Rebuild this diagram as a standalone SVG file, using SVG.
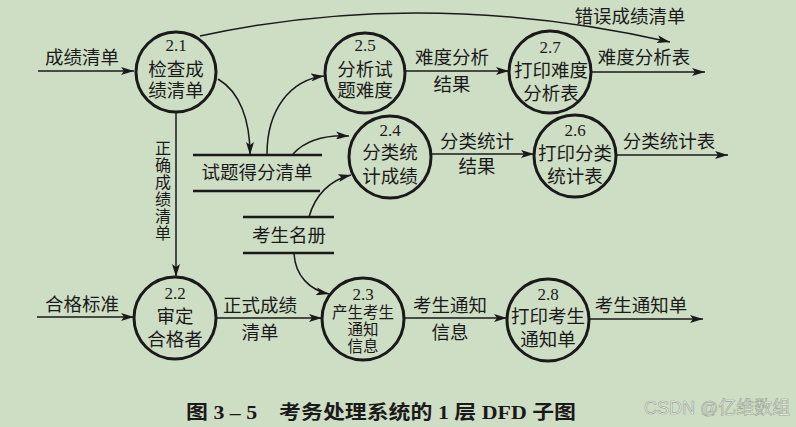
<svg xmlns="http://www.w3.org/2000/svg" width="796" height="427" viewBox="0 0 796 427">
<defs>
<marker id="ah" markerUnits="userSpaceOnUse" markerWidth="14" markerHeight="8" refX="13" refY="4" orient="auto">
<path d="M0,0 L13,4 L0,8 L3,4 Z" fill="#1a1a1a"/>
</marker>
<style>
.bg{fill:#cedec4}
.c{fill:none;stroke:#1a1a1a;stroke-width:3}
.st{stroke:#1a1a1a;stroke-width:2.5}
.f{fill:none;stroke:#1a1a1a;stroke-width:1.5;marker-end:url(#ah)}
text{font-family:"Liberation Serif","Noto Sans CJK SC",serif;fill:#1a1a1a;text-anchor:middle;dominant-baseline:central}
.n{font-size:17px}
.t{font-size:18.5px}
.s{font-size:15.5px}
.l{font-size:18.5px}
.v{font-size:16px}
.cap{font-size:19px;font-weight:600}
.wm{font-family:"Liberation Sans","Noto Sans CJK SC",sans-serif;font-size:18px;fill:#f3f6f0;stroke:#9ba797;stroke-width:0.7;text-anchor:start}
</style>
</defs>
<rect class="bg" x="0" y="0" width="796" height="427"/>

<g id="connectors">
<path class="f" d="M38,71 L134,71"/>
<path class="f" d="M200,36 Q425,-13 670,42"/>
<path class="f" d="M176,113 L176,277"/>
<path class="f" d="M218,79 C240,92 250,120 250,155"/>
<path class="f" d="M267,154 C267,110 290,80 324,76"/>
<path class="f" d="M293,154 C306,140 326,135 349,136"/>
<path class="f" d="M309,217 C315,195 330,180 351,175"/>
<path class="f" d="M294,253 C295,276 310,290 329,294"/>
<path class="f" d="M405,71 L509,71"/>
<path class="f" d="M592,72 L705,72"/>
<path class="f" d="M432,154 L534,154"/>
<path class="f" d="M615,155 L728,155"/>
<path class="f" d="M37,317 L134,317"/>
<path class="f" d="M216,318 L322,318"/>
<path class="f" d="M404,318 L507,318"/>
<path class="f" d="M589,319 L703,319"/>
</g>

<g id="labels">
<text class="l" x="82" y="58">成绩清单</text>
<text class="l" x="630" y="17">错误成绩清单</text>
<g class="v">
<text x="163" y="148">正</text>
<text x="163" y="165">确</text>
<text x="163" y="182">成</text>
<text x="163" y="199">绩</text>
<text x="163" y="216">清</text>
<text x="163" y="233">单</text>
</g>
<text class="l" x="452" y="58">难度分析</text>
<text class="l" x="452" y="85">结果</text>
<text class="l" x="644" y="58">难度分析表</text>
<text class="l" x="477" y="142">分类统计</text>
<text class="l" x="477" y="167">结果</text>
<text class="l" x="669" y="142">分类统计表</text>
<text class="l" x="82" y="305">合格标准</text>
<text class="l" x="260" y="306">正式成绩</text>
<text class="l" x="260" y="333">清单</text>
<text class="l" x="450" y="306">考生通知</text>
<text class="l" x="450" y="333">信息</text>
<text class="l" x="641" y="306">考生通知单</text>
</g>

<g id="store-1">
<line class="st" x1="193" y1="155" x2="322" y2="155"/>
<line class="st" x1="193" y1="191" x2="320" y2="191"/>
<text class="l" x="257" y="173">试题得分清单</text>
</g>
<g id="store-2">
<line class="st" x1="243" y1="217" x2="334" y2="217"/>
<line class="st" x1="243" y1="253" x2="334" y2="253"/>
<text class="l" x="289" y="236">考生名册</text>
</g>

<g id="p21">
<circle class="c" cx="176" cy="72" r="40"/>
<text class="n" x="176" y="45">2.1</text>
<text class="t" x="176" y="70">检查成</text>
<text class="t" x="176" y="91">绩清单</text>
</g>
<g id="p25">
<circle class="c" cx="365" cy="73" r="40"/>
<text class="n" x="365" y="45">2.5</text>
<text class="t" x="365" y="70">分析试</text>
<text class="t" x="365" y="91">题难度</text>
</g>
<g id="p27">
<circle class="c" cx="550" cy="72" r="41"/>
<text class="n" x="550" y="47">2.7</text>
<text class="t" x="551" y="71">打印难度</text>
<text class="t" x="551" y="94">分析表</text>
</g>
<g id="p24">
<circle class="c" cx="390" cy="157" r="41"/>
<text class="n" x="390" y="130">2.4</text>
<text class="t" x="390" y="153">分类统</text>
<text class="t" x="390" y="177">计成绩</text>
</g>
<g id="p26">
<circle class="c" cx="575" cy="156" r="41"/>
<text class="n" x="575" y="130">2.6</text>
<text class="t" x="575" y="154">打印分类</text>
<text class="t" x="575" y="177">统计表</text>
</g>
<g id="p22">
<circle class="c" cx="175" cy="318" r="41"/>
<text class="n" x="175" y="293">2.2</text>
<text class="t" x="175" y="317">审定</text>
<text class="t" x="175" y="340">合格者</text>
</g>
<g id="p23">
<circle class="c" cx="363" cy="319" r="41"/>
<text class="n" x="363" y="294">2.3</text>
<text class="s" x="363" y="312">产生考生</text>
<text class="s" x="363" y="329">通知</text>
<text class="s" x="363" y="346">信息</text>
</g>
<g id="p28">
<circle class="c" cx="548" cy="320" r="41"/>
<text class="n" x="548" y="294">2.8</text>
<text class="t" x="548" y="317">打印考生</text>
<text class="t" x="548" y="340">通知单</text>
</g>

<text class="cap" x="381" y="412" textLength="390" lengthAdjust="spacingAndGlyphs">图 3 – 5　考务处理系统的 1 层 DFD 子图</text>
<text class="wm" x="644" y="408">CSDN @亿维数组</text>
</svg>
